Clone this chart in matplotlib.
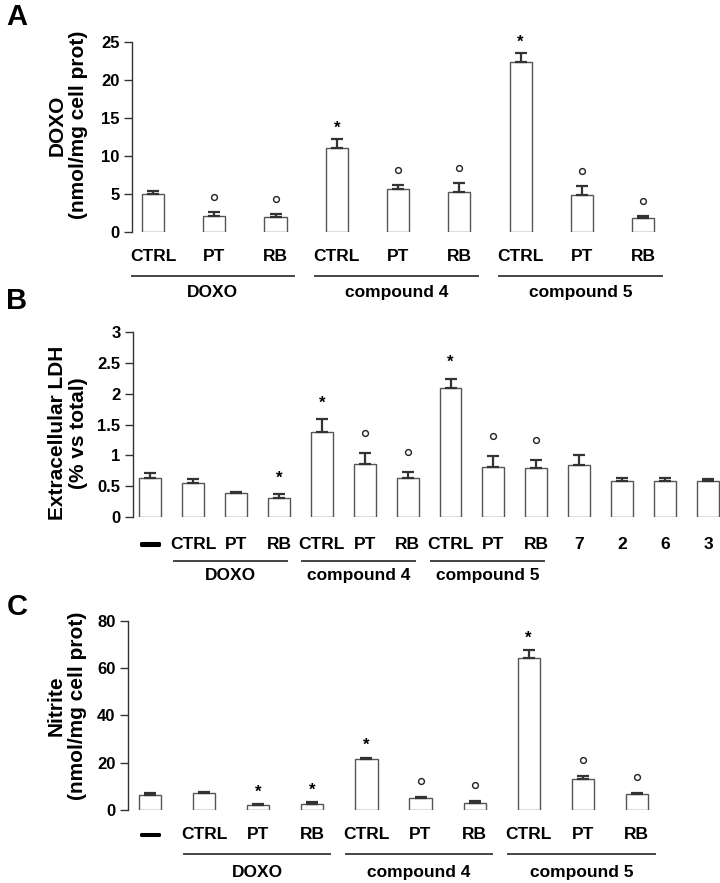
import numpy as np
import matplotlib
matplotlib.use("Agg")
import matplotlib.pyplot as plt
from matplotlib.transforms import ScaledTranslation
import matplotlib.patheffects as pe

plt.rcParams['font.family'] = ['Liberation Sans', 'DejaVu Sans']
plt.rcParams['font.weight'] = 'bold'

# panel A - DOXO accumulation
a_labels = ['CTRL', 'PT', 'RB', 'CTRL', 'PT', 'RB', 'CTRL', 'PT', 'RB']
a_vals = [5.0, 2.1, 2.0, 11.1, 5.6, 5.3, 22.4, 4.9, 1.8]
a_err = [0.4, 0.5, 0.3, 1.1, 0.6, 1.1, 1.1, 1.1, 0.3]
a_sig = ['', 'o', 'o', '*', 'o', 'o', '*', 'o', 'o']
a_groups = [('DOXO', 0, 2), ('compound 4', 3, 5), ('compound 5', 6, 8)]

# panel B - extracellular LDH
b_labels = ['\u2014', 'CTRL', 'PT', 'RB', 'CTRL', 'PT', 'RB', 'CTRL', 'PT', 'RB',
            '7', '2', '6', '3']
b_vals = [0.63, 0.55, 0.40, 0.32, 1.38, 0.87, 0.64, 2.09, 0.81, 0.80, 0.85, 0.58, 0.58, 0.59]
b_err = [0.09, 0.07, 0.01, 0.06, 0.21, 0.17, 0.09, 0.15, 0.18, 0.13, 0.16, 0.06, 0.06, 0.03]
b_sig = ['', '', '', '*', '*', 'o', 'o', '*', 'o', 'o', '', '', '', '']
b_groups = [('DOXO', 1, 3), ('compound 4', 4, 6), ('compound 5', 7, 9)]

# panel C - nitrite
c_labels = ['\u2014', 'CTRL', 'PT', 'RB', 'CTRL', 'PT', 'RB', 'CTRL', 'PT', 'RB']
c_vals = [6.2, 6.9, 1.8, 2.4, 21.4, 5.0, 2.7, 64.2, 13.2, 6.5]
c_err = [0.7, 0.7, 0.7, 0.9, 0.7, 0.5, 1.0, 3.4, 1.2, 0.7]
c_sig = ['', '', '*', '*', '*', 'o', 'o', '*', 'o', 'o']
c_groups = [('DOXO', 1, 3), ('compound 4', 4, 6), ('compound 5', 7, 9)]

PX = 0.72  # points per pixel at dpi 100


def shift(ax, base, dy_px):
    # move a transform down/up by some pixels
    return base + ScaledTranslation(0, dy_px / 100, ax.figure.dpi_scale_trans)


def panel(ax, labels, vals, errs, sig, groups, width, xlim, yticks, yticklabels,
          ylabel, label_xy, sig_off, lab_off, line_off, grp_off, line_ext):
    x = np.arange(len(vals))
    ax.bar(x, vals, width=width, color='white', edgecolor='#555555', linewidth=1.0, zorder=2)
    ax.errorbar(x, vals, yerr=[np.zeros(len(errs)), errs], fmt='none', ecolor='#333333',
                elinewidth=1.6, capsize=4, capthick=1.6, zorder=3)
    tr = ax.get_xaxis_transform()

    # significance marks above the error bars
    for xi, v, e, s in zip(x, vals, errs, sig):
        if s == 'o':
            ax.plot([xi], [v + e], marker='o', ms=4.2, mfc='white', mec='#222222', mew=1.0,
                    linestyle='none', clip_on=False, zorder=4,
                    transform=shift(ax, ax.transData, sig_off))
        elif s == '*':
            ax.annotate('*', xy=(xi, v + e), xytext=(0, (sig_off - 4) * PX),
                        textcoords='offset points', ha='center', va='center',
                        fontsize=12, annotation_clip=False)

    # bar labels
    for xi, lab in zip(x, labels):
        t = ax.annotate(lab, xy=(xi, 0), xycoords=tr, xytext=(0, -lab_off * PX),
                        textcoords='offset points', ha='center', va='center', fontsize=12.5,
                        annotation_clip=False)
        if lab == '\u2014':
            t.set_path_effects([pe.withStroke(linewidth=2.2, foreground='black')])

    # group lines + names
    for name, i0, i1 in groups:
        x0, x1 = x[i0] + line_ext[0], x[i1] + line_ext[1]
        ax.plot([x0, x1], [0, 0], color='#444444', lw=1.4, clip_on=False,
                transform=shift(ax, tr, -line_off))
        ax.annotate(name, xy=((x0 + x1) / 2, 0), xycoords=tr, xytext=(0, -grp_off * PX),
                    textcoords='offset points', ha='center', va='center', fontsize=12.5,
                    annotation_clip=False)

    ax.set_xlim(*xlim)
    ax.set_ylim(yticks[0], yticks[-1])
    ax.set_yticks(yticks)
    ax.set_yticklabels(yticklabels, fontsize=12, fontweight='bold')
    ax.set_xticks([])
    for sp in ['top', 'right', 'bottom']:
        ax.spines[sp].set_visible(False)
    ax.spines['left'].set_color('#333333')
    ax.spines['left'].set_linewidth(1.0)
    ax.tick_params(axis='y', direction='out', length=6, width=1.0, color='#333333', pad=3)
    ax.set_ylabel(ylabel, fontsize=15, fontweight='bold', linespacing=1.15)
    ax.yaxis.set_label_coords(*label_xy)
    return x


fig = plt.figure(figsize=(7.2, 8.83), dpi=100)

axA = fig.add_axes([0.1833, 0.7373, 0.761, 0.2152])
panel(axA, a_labels, a_vals, a_err, a_sig, a_groups, 0.36, (-0.343, 8.6),
      [0, 5, 10, 15, 20, 25], ['0', '5', '10', '15', '20', '25'],
      'DOXO\n(nmol/mg cell prot)', (-0.080, 0.563), 15, 25, 44, 61, (-0.35, 0.3))

axB = fig.add_axes([0.1847, 0.4141, 0.8153, 0.2102])
panel(axB, b_labels, b_vals, b_err, b_sig, b_groups, 0.51, (-0.40, 13.28),
      [0, 0.5, 1, 1.5, 2, 2.5, 3], ['0', '0.5', '1', '1.5', '2', '2.5', '3'],
      'Extracellular LDH\n(% vs total)', (-0.077, 0.454), 20, 27, 44, 58, (-0.45, 0.18))

axC = fig.add_axes([0.1778, 0.0830, 0.7667, 0.2134])
panel(axC, c_labels, c_vals, c_err, c_sig, c_groups, 0.41, (-0.41, 9.8),
      [0, 20, 40, 60, 80], ['0', '20', '40', '60', '80'],
      'Nitrite\n(nmol/mg cell prot)', (-0.074, 0.55), 16, 25, 44, 63, (-0.38, 0.33))

for letter, ypx in [('A', 17), ('B', 301), ('C', 607)]:
    fig.text(17 / 720, 1 - ypx / 883, letter, fontsize=21, fontweight='bold',
             ha='center', va='center')

fig.savefig('out.png', dpi=100)
